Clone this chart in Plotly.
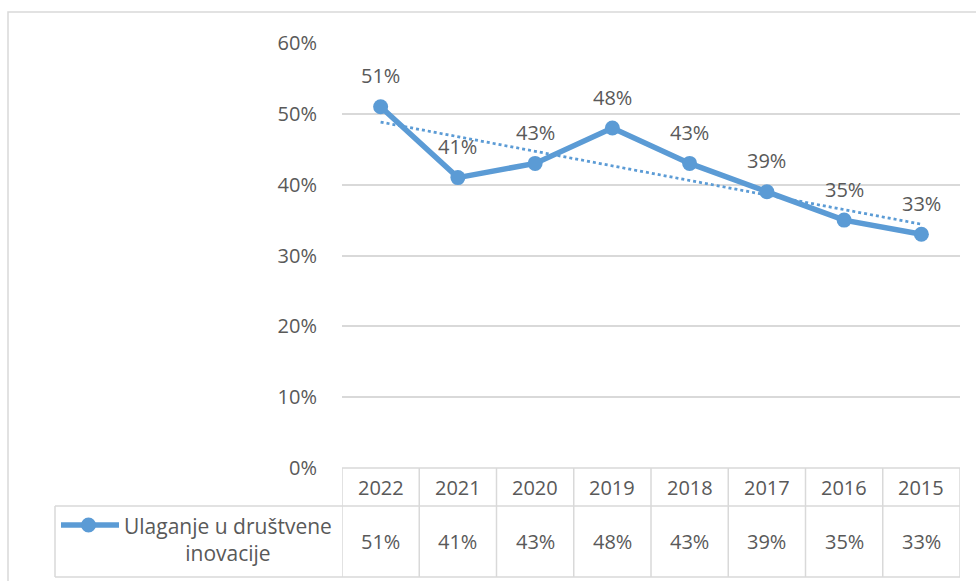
import numpy as np
import plotly.graph_objects as go

years = ["2022", "2021", "2020", "2019", "2018", "2017", "2016", "2015"]
values = [0.51, 0.41, 0.43, 0.48, 0.43, 0.39, 0.35, 0.33]
series_name = "Ulaganje u društvene<br>inovacije"
y_ticks = [0, 0.1, 0.2, 0.3, 0.4, 0.5, 0.6]

W, H = 976, 581
BLUE = "#5B9BD5"
GRID = "#d9d9d9"
TXT = "#595959"
FONT = "Open Sans"
FS = 20

# pixel layout
px_l, px_r = 342, 960
px_top, px_bot = 43, 468
hdr_bot, tbl_bot = 506, 577
tbl_left = 55

def fx(px):
    return px / W

def fy(py):
    return (H - py) / H

n = len(years)
xi = np.arange(n)
slope, intercept = np.polyfit(xi, values, 1)
trend = [intercept + slope * x for x in xi]

fig = go.Figure()
fig.add_trace(go.Scatter(
    x=list(xi), y=trend, mode="lines",
    line=dict(color=BLUE, width=2.75, dash="dot"),
    hoverinfo="skip", showlegend=False))
fig.add_trace(go.Scatter(
    x=list(xi), y=values, mode="lines+markers",
    line=dict(color=BLUE, width=5.5),
    marker=dict(color=BLUE, size=15),
    showlegend=False))

shapes = []
line_style = dict(color=GRID, width=1.5)
# outer chart frame
shapes.append(dict(type="rect", xref="paper", yref="paper",
                   x0=fx(8), x1=fx(990), y0=fy(600), y1=fy(12),
                   line=dict(color=GRID, width=1.5)))
# table horizontal lines
shapes.append(dict(type="line", xref="paper", yref="paper",
                   x0=fx(px_l), x1=fx(px_r), y0=fy(px_bot), y1=fy(px_bot), line=line_style))
for yy in (hdr_bot, tbl_bot):
    shapes.append(dict(type="line", xref="paper", yref="paper",
                       x0=fx(tbl_left), x1=fx(px_r), y0=fy(yy), y1=fy(yy), line=line_style))
# vertical lines between categories
for i in range(n + 1):
    shapes.append(dict(type="line", xref="x", yref="paper",
                       x0=i - 0.5, x1=i - 0.5, y0=fy(px_bot), y1=fy(tbl_bot), line=line_style))
shapes.append(dict(type="line", xref="paper", yref="paper",
                   x0=fx(tbl_left), x1=fx(tbl_left), y0=fy(hdr_bot), y1=fy(tbl_bot), line=line_style))
# legend key in table
shapes.append(dict(type="line", xref="paper", yref="paper",
                   x0=fx(61), x1=fx(119), y0=fy(525), y1=fy(525),
                   line=dict(color=BLUE, width=5.5)))
shapes.append(dict(type="circle", xref="paper", yref="paper",
                   x0=fx(81), x1=fx(96), y0=fy(532.5), y1=fy(517.5),
                   fillcolor=BLUE, line=dict(color=BLUE, width=0)))

annotations = []
for i, (yr, v) in enumerate(zip(years, values)):
    lab = f"{round(v*100)}%"
    annotations.append(dict(x=i, xref="x", y=v, yref="y", yshift=31,
                            text=lab, showarrow=False, xanchor="center", yanchor="middle",
                            font=dict(family=FONT, size=FS, color=TXT)))
    annotations.append(dict(x=i, xref="x", y=fy((px_bot + hdr_bot) / 2), yref="paper",
                            text=yr, showarrow=False, xanchor="center", yanchor="middle",
                            font=dict(family=FONT, size=FS, color=TXT)))
    annotations.append(dict(x=i, xref="x", y=fy((hdr_bot + tbl_bot) / 2), yref="paper",
                            text=lab, showarrow=False, xanchor="center", yanchor="middle",
                            font=dict(family=FONT, size=FS, color=TXT)))
annotations.append(dict(x=fx(228), xref="paper", y=fy(539), yref="paper",
                        text=series_name, showarrow=False, xanchor="center", yanchor="middle",
                        align="center",
                        font=dict(family=FONT, size=21, color=TXT)))

fig.update_layout(
    template="none",
    width=W, height=H, autosize=False,
    margin=dict(l=0, r=0, t=0, b=0, pad=0),
    paper_bgcolor="white", plot_bgcolor="white",
    xaxis=dict(domain=[fx(px_l), fx(px_r)], range=[-0.5, n - 0.5], automargin=False,
               showticklabels=False, showgrid=False, zeroline=False, showline=False,
               fixedrange=True),
    yaxis=dict(domain=[fy(px_bot), fy(px_top)], range=[0, 0.6], automargin=False,
               tickvals=y_ticks, tickformat=".0%", showline=False,
               showgrid=True, gridcolor=GRID, gridwidth=1.5, zeroline=False,
               tickfont=dict(family=FONT, size=FS, color=TXT),
               ticks="", ticklabelstandoff=24, fixedrange=True),
    shapes=shapes,
    annotations=annotations,
)

fig.write_html("out.html")
